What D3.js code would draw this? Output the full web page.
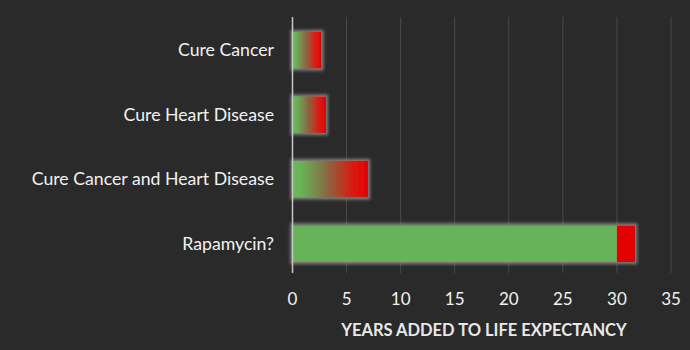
<!DOCTYPE html>
<html><head><meta charset="utf-8">
<script src="https://cdn.jsdelivr.net/npm/d3@7"></script>
<style>
html,body{margin:0;padding:0;background:#2a2a2a;}
svg{display:block;}
</style></head>
<body>
<svg id="chart" width="690" height="350"></svg>
<script>
const categories = ["Cure Cancer","Cure Heart Disease","Cure Cancer and Heart Disease","Rapamycin?"];
const totalYears = [2.7, 3.1, 7.0, 31.7];
const solidGreenYears = [null, null, null, 30];
const xTicks = [0,5,10,15,20,25,30,35];
const axisTitle = "YEARS ADDED TO LIFE EXPECTANCY";

const svg = d3.select("#chart");
const W = 690, H = 350;
svg.append("rect").attr("width",W).attr("height",H).attr("fill","#2a2a2a");

const x = d3.scaleLinear().domain([0,35]).range([292.5,671]);
const y = d3.scaleBand().domain(categories).range([18,276]).paddingInner(0.43).paddingOuter(0.215);

const defs = svg.append("defs");
const grad = defs.append("linearGradient").attr("id","gr").attr("x1","0").attr("x2","1").attr("y1","0").attr("y2","0");
[[0,"#6cb85c"],[0.12,"#68b258"],[0.45,"#866a44"],[0.8,"#d81a10"],[1,"#e80000"]].forEach(s=>
  grad.append("stop").attr("offset",s[0]).attr("stop-color",s[1]));
const glow = defs.append("filter").attr("id","glow").attr("x","-20%").attr("y","-30%").attr("width","140%").attr("height","160%");
glow.append("feMorphology").attr("in","SourceAlpha").attr("operator","dilate").attr("radius",1.5).attr("result","d");
glow.append("feGaussianBlur").attr("in","d").attr("stdDeviation",1.8).attr("result","b");
glow.append("feFlood").attr("flood-color","#8a8a8a").attr("flood-opacity",0.85);
glow.append("feComposite").attr("in2","b").attr("operator","in").attr("result","g");
const m = glow.append("feMerge");
m.append("feMergeNode").attr("in","g");
m.append("feMergeNode").attr("in","SourceGraphic");

// gridlines
svg.append("g").selectAll("line").data(xTicks.slice(1)).join("line")
  .attr("x1",d=>x(d)).attr("x2",d=>x(d)).attr("y1",17).attr("y2",273)
  .attr("stroke","#4b4b4b").attr("stroke-width",1);

// bars
const bars = svg.append("g");
categories.forEach((c,i)=>{
  const g = bars.append("g").attr("filter","url(#glow)");
  if (solidGreenYears[i] == null) {
    g.append("rect").attr("x",x(0)).attr("y",y(c)).attr("width",x(totalYears[i])-x(0)).attr("height",y.bandwidth())
      .attr("fill","url(#gr)");
  } else {
    g.append("rect").attr("x",x(0)).attr("y",y(c)).attr("width",x(totalYears[i])-x(0)).attr("height",y.bandwidth()).attr("fill","#e30000");
    g.append("rect").attr("x",x(0)).attr("y",y(c)).attr("width",x(solidGreenYears[i])-x(0)).attr("height",y.bandwidth()).attr("fill","#66b35a");
  }
});

// axis line
svg.append("line").attr("x1",x(0)).attr("x2",x(0)).attr("y1",17).attr("y2",273)
  .attr("stroke","#c8c8c8").attr("stroke-width",1.5);

const font = "Lato, 'Open Sans', sans-serif";
// category labels
svg.append("g").selectAll("text").data(categories).join("text")
  .attr("x",274).attr("y",d=>y(d)+y.bandwidth()/2).attr("dy","0.35em")
  .attr("text-anchor","end").attr("fill","#f2f2f2").attr("font-family",font).attr("font-size",17.7)
  .text(d=>d);

// tick labels
svg.append("g").selectAll("text").data(xTicks).join("text")
  .attr("x",d=>x(d)).attr("y",299).attr("dy","0.35em").attr("text-anchor","middle")
  .attr("fill","#f2f2f2").attr("font-family",font).attr("font-size",17).text(d=>d);

svg.append("text").attr("x",484).attr("y",330).attr("dy","0.35em").attr("text-anchor","middle")
  .attr("fill","#e8e8e8").attr("font-family",font).attr("font-weight","bold").attr("font-size",16.5)
  .text(axisTitle);
</script>
</body></html>
